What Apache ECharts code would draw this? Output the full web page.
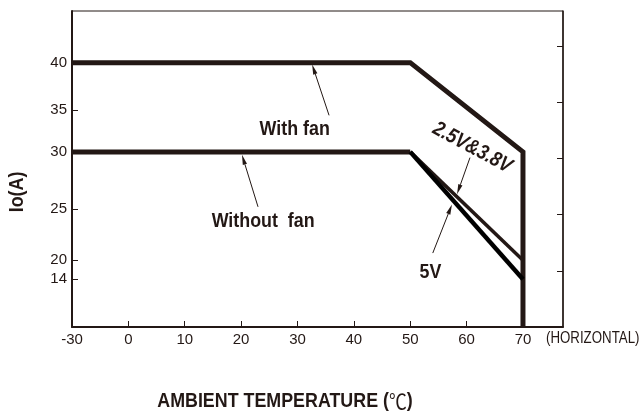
<!DOCTYPE html>
<html><head><meta charset="utf-8">
<script src="https://cdn.jsdelivr.net/npm/echarts@6/dist/echarts.min.js"></script>
<style>html,body{margin:0;padding:0;background:#fff}#c{width:643px;height:415px}</style>
</head><body><div id="c"></div>
<script>
// ---- data ----
const xTickLabels = [-30, 0, 10, 20, 30, 40, 50, 60, 70];   // ambient temperature ticks (°C)
const yTickLabels = [14, 20, 25, 30, 35, 40];                // Io ticks (A)
const withFanTemp = [-30, 50, 70, 70];
const withFanIo   = [40, 40, 30, 0];
const noFanTemp   = [-30, 50];
const noFanIo     = [30, 30];
const v25Temp     = [50, 70];
const v25Io       = [30, 20];
const v5Temp      = [50, 70];
const v5Io        = [30, 14];

// ---- printed (non-linear) scale of the original chart ----
// x: -30 sits one division left of 0
function xPos(t) { return t >= 0 ? t : t / 3; }
function xInv(v) { return v >= 0 ? Math.round(v) : Math.round(v * 3); }
// y: vertical position of each printed current value (in grid divisions)
const yScaleIo  = [0, 14, 20, 25, 30, 35, 40];
const yScaleDiv = [0, 0.85, 1.19, 2.10, 3.12, 3.86, 4.71];
function yPos(c) {
  const n = yScaleIo.length;
  let i = 0;
  while (i < n - 2 && c > yScaleIo[i + 1]) i++;
  const a = yScaleIo[i], b = yScaleIo[i + 1];
  return yScaleDiv[i] + (c - a) / (b - a) * (yScaleDiv[i + 1] - yScaleDiv[i]);
}
function yInv(p) {
  for (let i = 0; i < yScaleDiv.length; i++) if (Math.abs(yScaleDiv[i] - p) < 1e-6) return yScaleIo[i];
  return '';
}
function toPts(ts, cs) { return ts.map((t, i) => [xPos(t), yPos(cs[i])]); }

// annotation anchors in data space [temperature, current]
const textNotes = [
  { text: 'With fan',     at: [29.5, 32.7] },
  { text: 'Without  fan', at: [23.9, 23.85] },
  { text: '2.5V&3.8V',    at: [61.0, 30.5], rot: 28, italic: true },
  { text: '5V',           at: [53.6, 16.3] }
];
const arrowNotes = [
  { from: [35.6, 34.4], to: [32.6, 39.8] },
  { from: [23.0, 25.2], to: [20.15, 29.75] },
  { from: [60.6, 29.5], to: [58.3, 26.3] },
  { from: [54.0, 20.7], to: [57.4, 25.4] }
];

const INK = '#231815';
const FONT = "'Liberation Sans',Arial,sans-serif";
const SX = 0.85; // condensed look of the original lettering

const chart = echarts.init(document.getElementById('c'), null, { renderer: 'canvas' });

function lineSeries(name, pts, w, color) {
  return {
    name, type: 'line', data: pts, symbol: 'none', animation: false, silent: true,
    lineStyle: { width: w, color, join: 'miter', cap: 'butt' }, clip: true
  };
}

chart.setOption({
  animation: false,
  backgroundColor: '#fff',
  grid: { left: 72, right: 80, top: 11, bottom: 88, containLabel: false, outerBoundsMode: 'none',
          show: true, borderColor: INK, borderWidth: 1, backgroundColor: 'transparent' },
  xAxis: {
    type: 'value', min: -10, max: 77.1,
    axisLine: { show: true, onZero: false, lineStyle: { color: INK, width: 2 } },
    axisTick: { show: true, inside: true, length: 6, lineStyle: { color: INK, width: 1 }, customValues: xTickLabels.map(xPos) },
    axisLabel: { show: true, margin: 5, color: INK, fontSize: 15, fontFamily: FONT, customValues: xTickLabels.map(xPos), formatter: v => String(xInv(v)) },
    splitLine: { show: false }
  },
  yAxis: [{
    type: 'value', min: 0, max: 5.63, position: 'left',
    axisLine: { show: true, onZero: false, lineStyle: { color: INK, width: 2 } },
    axisTick: { show: true, inside: true, length: 6, lineStyle: { color: INK, width: 1 }, customValues: yTickLabels.map(yPos) },
    axisLabel: { show: true, margin: 5, color: INK, fontSize: 15, fontFamily: FONT, customValues: yTickLabels.map(yPos), formatter: v => String(yInv(v)) },
    splitLine: { show: false }
  }, {
    type: 'value', min: 0, max: 5.63, position: 'right',
    axisLine: { show: true, onZero: false, lineStyle: { color: INK, width: 1.5 } },
    axisTick: { show: true, inside: true, length: 6, lineStyle: { color: INK, width: 1 }, customValues: [1, 2, 3, 4, 5] },
    axisLabel: { show: false },
    splitLine: { show: false }
  }],
  series: [
    lineSeries('With fan', toPts(withFanTemp, withFanIo), 5, INK),
    lineSeries('Without fan', toPts(noFanTemp, noFanIo), 5, INK),
    lineSeries('2.5V&3.8V', toPts(v25Temp, v25Io), 3.5, INK),
    lineSeries('5V', toPts(v5Temp, v5Io), 4.5, '#000')
  ]
});

// annotations placed through the chart's own coordinate conversion
function px(p) { return chart.convertToPixel({ gridIndex: 0 }, [xPos(p[0]), yPos(p[1])]); }
const g = [];
textNotes.forEach(n => {
  const p = px(n.at);
  g.push({
    type: 'text', x: p[0], y: p[1], rotation: n.rot ? -n.rot * Math.PI / 180 : 0, scaleX: SX, silent: true,
    style: { text: n.text, fill: INK, font: (n.italic ? 'italic ' : '') + 'bold 21px ' + FONT, textAlign: 'center', textVerticalAlign: 'middle' }
  });
});
arrowNotes.forEach(a => {
  const p1 = px(a.from), p2 = px(a.to);
  const dx = p2[0] - p1[0], dy = p2[1] - p1[1], L = Math.hypot(dx, dy);
  const ux = dx / L, uy = dy / L, hl = 10, hw = 2.2;
  const bx = p2[0] - ux * hl, by = p2[1] - uy * hl;
  g.push({ type: 'line', silent: true, shape: { x1: p1[0], y1: p1[1], x2: bx, y2: by }, style: { stroke: INK, lineWidth: 1 } });
  g.push({ type: 'polygon', silent: true, shape: { points: [[p2[0], p2[1]], [bx - uy * hw, by + ux * hw], [bx + uy * hw, by - ux * hw]] }, style: { fill: INK } });
});
// axis titles
g.push({ type: 'text', x: 17, y: 192, rotation: Math.PI / 2, scaleX: SX, silent: true,
  style: { text: 'Io(A)', fill: INK, font: 'bold 21px ' + FONT, textAlign: 'center', textVerticalAlign: 'middle' } });
g.push({ type: 'text', x: 285, y: 401, scaleX: SX, silent: true,
  style: { text: 'AMBIENT TEMPERATURE ({c|℃})', fill: INK, fontSize: 21, fontWeight: 'bold', fontFamily: FONT,
    align: 'center', verticalAlign: 'middle',
    rich: { c: { fontSize: 21, fontWeight: 'normal', fontFamily: "'Noto Sans CJK SC',sans-serif", fill: INK } } } });
g.push({ type: 'text', x: 546, y: 339, scaleX: 0.83, silent: true,
  style: { text: '(HORIZONTAL)', fill: INK, font: '16px ' + FONT, textAlign: 'left', textVerticalAlign: 'middle' } });
chart.setOption({ graphic: g });
</script></body></html>
